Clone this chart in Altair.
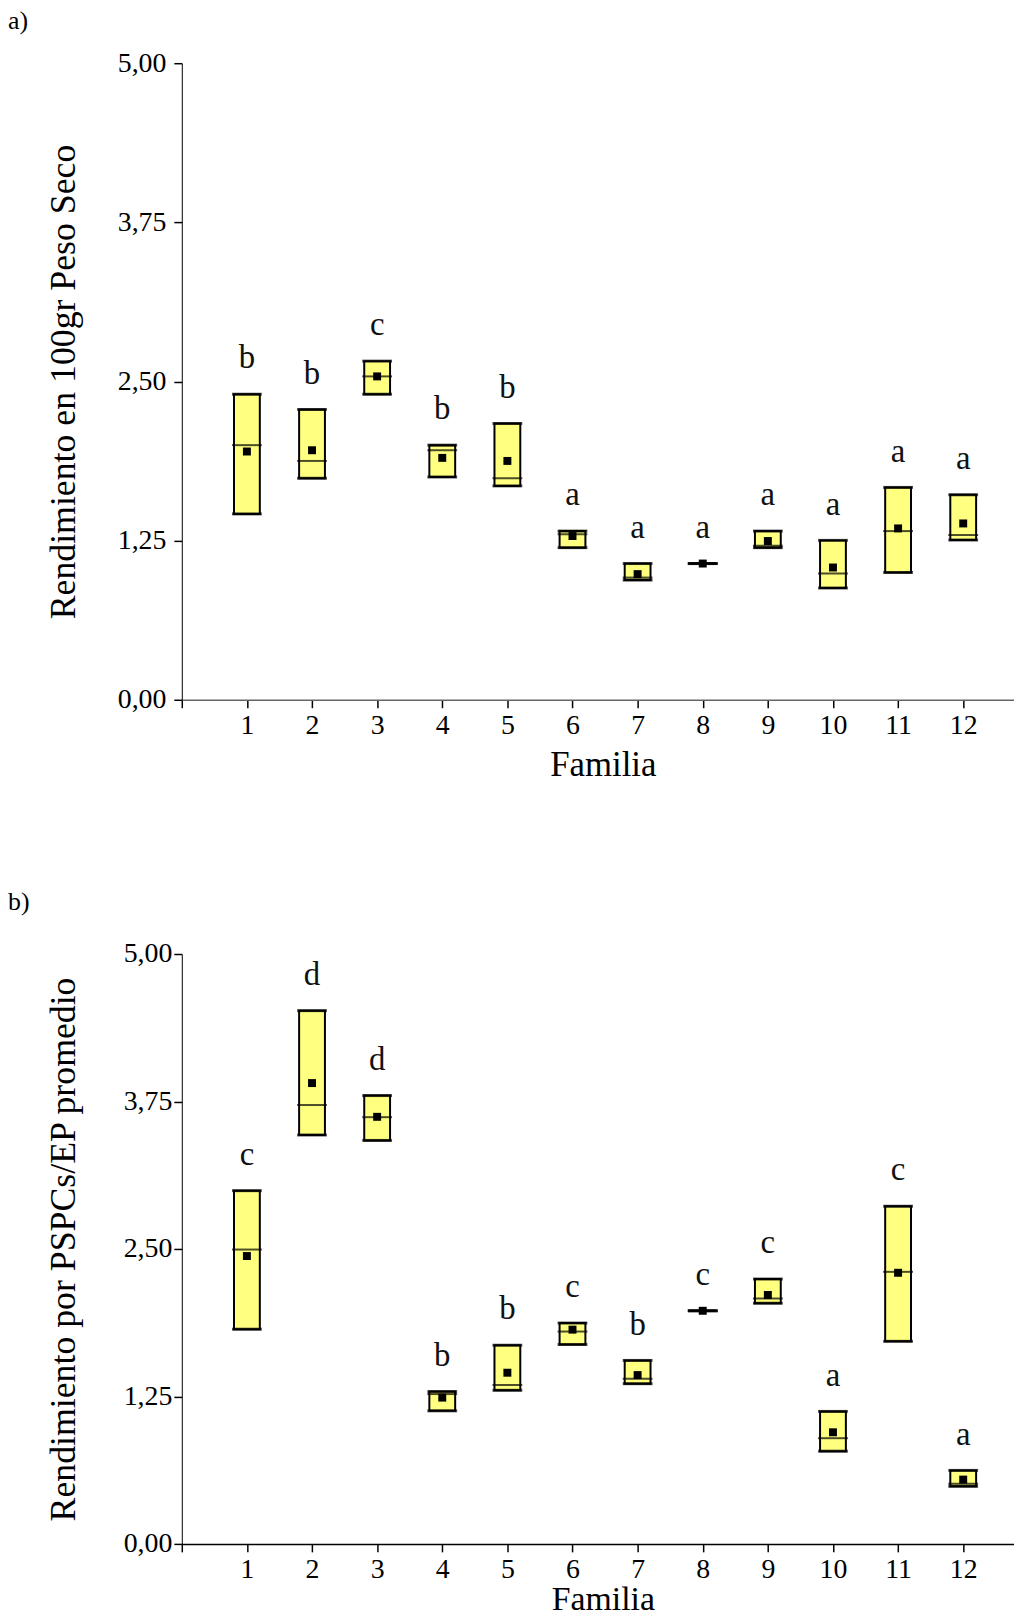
import altair as alt
import pandas as pd

familias = list(range(1, 13))

# Panel a) Rendimiento en 100gr Peso Seco
a_low = [1.46, 1.74, 2.40, 1.75, 1.68, 1.195, 0.94, 1.07, 1.195, 0.878, 1.00, 1.255]
a_high = [2.40, 2.28, 2.66, 2.00, 2.17, 1.325, 1.07, 1.07, 1.325, 1.252, 1.668, 1.61]
a_med = [2.00, 1.876, 2.54, 1.96, 1.74, 1.30, 0.96, 1.07, 1.21, 0.992, 1.325, 1.294]
a_mean = [1.95, 1.96, 2.54, 1.90, 1.876, 1.286, 0.987, 1.07, 1.247, 1.039, 1.346, 1.385]
a_lab = ["b", "b", "c", "b", "b", "a", "a", "a", "a", "a", "a", "a"]

# Panel b) Rendimiento por PSPCs/EP promedio
b_low = [1.82, 3.466, 3.42, 1.128, 1.302, 1.69, 1.358, 1.976, 2.04, 0.786, 1.717, 0.488]
b_high = [2.994, 4.52, 3.80, 1.291, 1.684, 1.872, 1.555, 1.976, 2.245, 1.123, 2.862, 0.623]
b_med = [2.495, 3.72, 3.617, 1.27, 1.347, 1.80, 1.40, 1.976, 2.08, 0.896, 2.306, 0.51]
b_mean = [2.44, 3.906, 3.62, 1.24, 1.451, 1.816, 1.431, 1.976, 2.11, 0.946, 2.298, 0.545]
b_lab = ["c", "d", "d", "b", "b", "c", "b", "c", "c", "a", "c", "a"]

y_ticks = [0, 1.25, 2.5, 3.75, 5]
x_ticks = list(range(0, 13))

FONT = "Liberation Serif"
W = 838


def panel(low, high, med, mean, lab, ytitle, tag, tag_y, height, label_pad,
          xdom_color, xtitle_y, xtitle_size):
    df = pd.DataFrame({"Familia": familias, "low": low, "high": high,
                       "med": med, "mean": mean, "lab": lab})
    xs = alt.Scale(domain=[0, 12.78], nice=False, zero=False, padding=0)
    ys = alt.Scale(domain=[0, 5], nice=False, padding=0)
    xaxis = alt.Axis(values=x_ticks,
                     labelExpr="datum.value == 0 ? '' : format(datum.value, 'd')",
                     title="Familia", grid=False, tickSize=8, tickWidth=1.5,
                     tickColor="black", domainColor=xdom_color, domainWidth=1.5,
                     labelFont=FONT, labelFontSize=28, labelColor="black", labelPadding=4,
                     titleFont=FONT, titleFontSize=xtitle_size, titleFontWeight="normal",
                     titleColor="black", titleX=424, titleY=xtitle_y,
                     titleAlign="center", titleBaseline="top", labelFlush=False)
    yaxis = alt.Axis(values=y_ticks,
                     labelExpr="replace(format(datum.value, '.2f'), '.', ',')",
                     title=ytitle, grid=False, tickSize=8, tickWidth=1.5,
                     tickColor="black", domainColor="black", domainWidth=1,
                     labelFont=FONT, labelFontSize=28, labelColor="black",
                     labelPadding=label_pad, labelFlush=False,
                     titleFont=FONT, titleFontSize=36, titleFontWeight="normal",
                     titleColor="black", titleAngle=-90, titleX=-119, titleY=height / 2,
                     titleAlign="center", titleBaseline="middle")
    base = alt.Chart(df)
    x = alt.X("Familia:Q", scale=xs, axis=xaxis)
    box = base.mark_bar(size=26, color="#FFFF80", stroke="black", strokeWidth=2).encode(
        x=x, y=alt.Y("low:Q", scale=ys, axis=yaxis), y2="high:Q")
    cap_lo = base.mark_tick(orient="horizontal", size=30, thickness=3, color="black").encode(
        x=alt.X("Familia:Q", scale=xs), y=alt.Y("low:Q", scale=ys))
    cap_hi = base.mark_tick(orient="horizontal", size=30, thickness=3, color="black").encode(
        x=alt.X("Familia:Q", scale=xs), y=alt.Y("high:Q", scale=ys))
    medm = base.mark_tick(orient="horizontal", size=30, thickness=2, color="black").encode(
        x=alt.X("Familia:Q", scale=xs), y=alt.Y("med:Q", scale=ys))
    meanm = base.mark_square(size=64, color="black", opacity=1).encode(
        x=alt.X("Familia:Q", scale=xs), y=alt.Y("mean:Q", scale=ys))
    txt = base.mark_text(dy=-26, baseline="alphabetic", fontSize=33, font=FONT,
                         color="#111111").encode(
        x=alt.X("Familia:Q", scale=xs), y=alt.Y("high:Q", scale=ys), text="lab:N")
    tagm = alt.Chart(pd.DataFrame({"t": [tag]})).mark_text(
        align="left", baseline="middle", fontSize=26, font=FONT, color="black").encode(
        x=alt.value(-175), y=alt.value(tag_y), text="t:N")
    return alt.layer(box, cap_lo, cap_hi, medm, meanm, txt, tagm).properties(
        width=W, height=height)


pa = panel(a_low, a_high, a_med, a_mean, a_lab, "Rendimiento en 100gr Peso Seco",
           "a)", -42.6, 641, 8, "#666666", 48, 35)
pb = panel(b_low, b_high, b_med, b_mean, b_lab, "Rendimiento por PSPCs/EP promedio",
           "b)", -52.3, 594, 2, "black", 39, 34)

chart = (
    alt.vconcat(pa, pb, spacing=107)
    .properties(padding={"left": 0, "top": -6, "right": 0, "bottom": -7})
    .configure(font=FONT)
    .configure_view(stroke=None, strokeWidth=0)
)

chart.save("out.html", embed_options={"renderer": "svg", "actions": False})
